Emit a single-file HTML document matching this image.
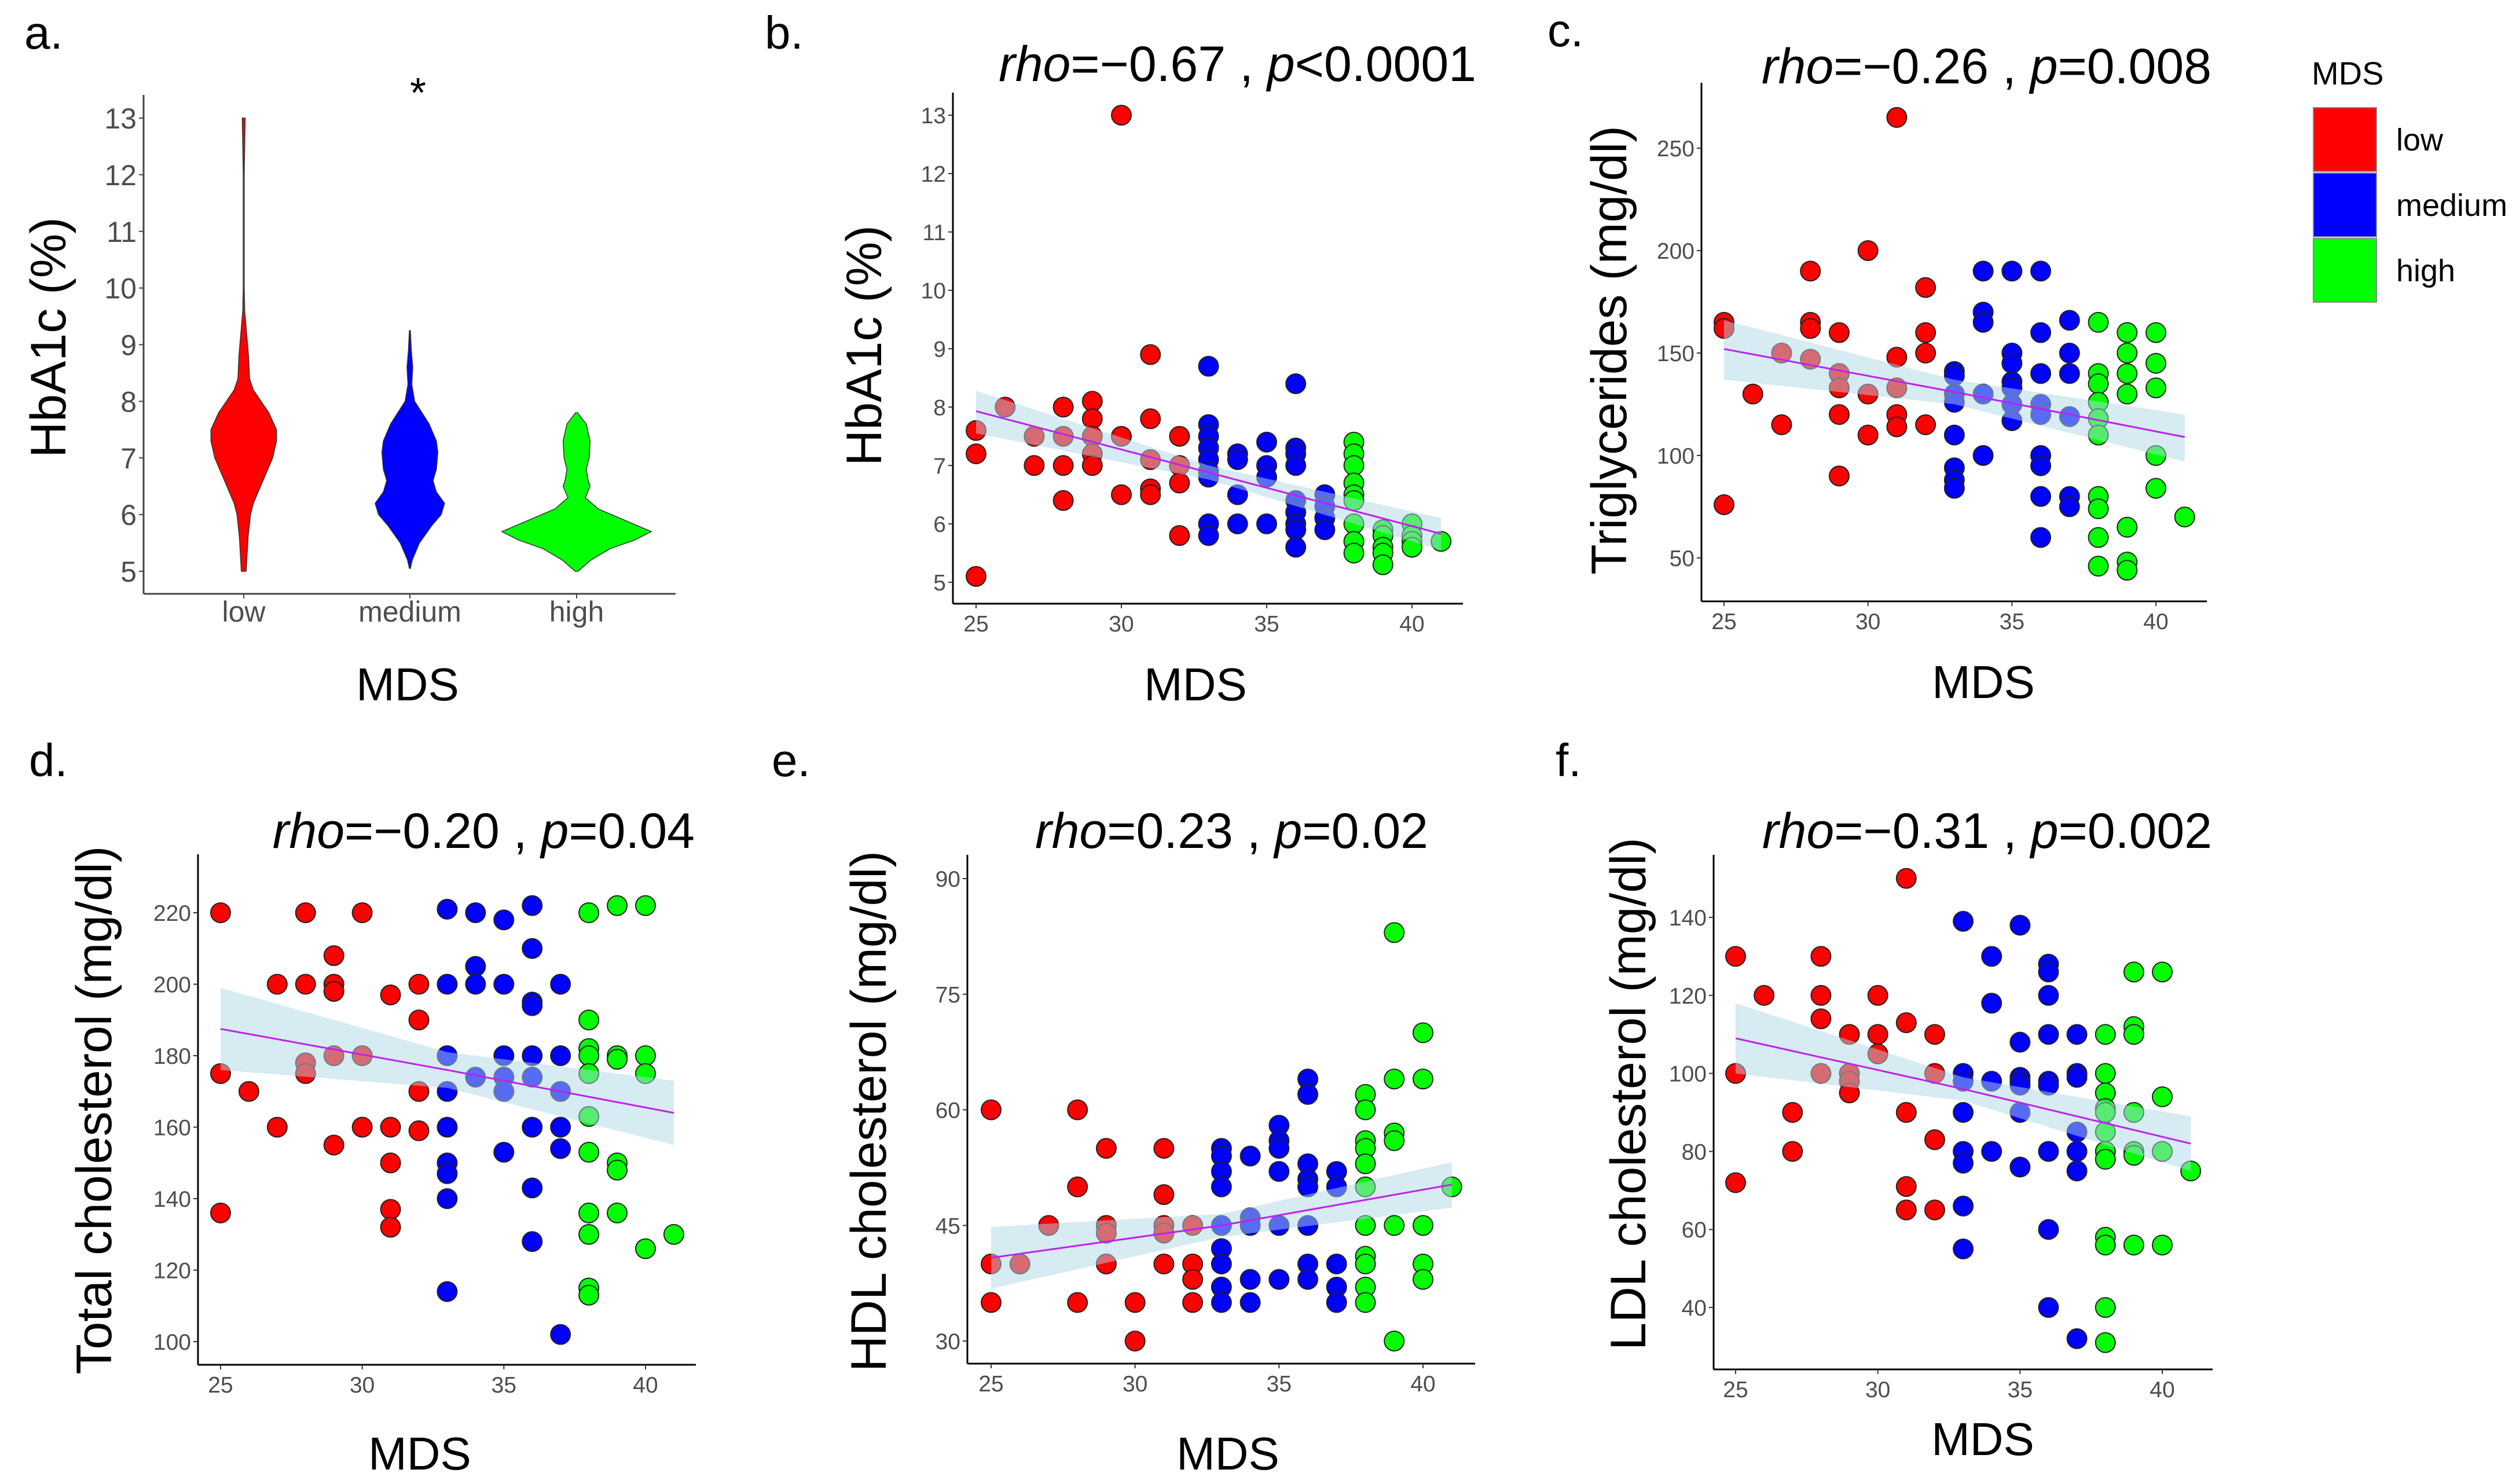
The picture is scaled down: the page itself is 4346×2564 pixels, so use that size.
<!DOCTYPE html>
<html><head><meta charset="utf-8">
<style>
html,body{margin:0;padding:0;background:#fff;}
svg{display:block;font-family:"Liberation Sans",Arial,sans-serif;}
</style></head>
<body>
<svg id="fig" width="4346" height="2564" viewBox="0 0 4346 2564" xmlns="http://www.w3.org/2000/svg"></svg>
<script>
// ---------- DATA ----------
const violinGroups = ["low","medium","high"];
const violinTicks = [5,6,7,8,9,10,11,12,13];
const lowProfileVals = [13,12.5,12,10,9.6,9.2,8.8,8.4,8.2,8,7.8,7.5,7.3,7,6.7,6.4,6.2,6.0,5.6,5.3,5];
const lowProfileDens = [3,2,1,1,2,6,10,12,20,36,52,68,68,60,45,30,20,14,9,7,5];
const medProfileVals = [9.25,8.9,8.6,8.3,8.0,7.8,7.6,7.3,7.1,6.8,6.6,6.4,6.2,6.0,5.8,5.5,5.2,5.05];
const medProfileDens = [1,3,6,4,10,25,40,55,58,55,48,55,72,65,45,20,5,1];
const highProfileVals = [7.8,7.6,7.3,7.0,6.8,6.6,6.5,6.3,6.1,5.9,5.7,5.55,5.4,5.2,5.0];
const highProfileDens = [2,20,28,26,20,24,28,18,45,100,155,120,70,30,3];

const hba1cPoints = [[25,7.6],[25,7.2],[25,5.1],[26,8.0],[27,7.5],[27,7.0],[28,8.0],[28,7.5],[28,7.0],[28,6.4],[29,8.1],[29,7.8],[29,7.5],[29,7.2],[29,7.0],[30,13],[30,7.5],[30,6.5],[31,8.9],[31,7.8],[31,7.1],[31,6.6],[31,6.5],[32,7.5],[32,7.0],[32,6.7],[32,5.8],
[33,8.7],[33,7.7],[33,7.5],[33,7.3],[33,7.1],[33,6.9],[33,6.8],[33,6.0],[33,5.8],[34,7.2],[34,7.1],[34,6.5],[34,6.0],[35,7.4],[35,7.0],[35,6.8],[35,6.0],[36,8.4],[36,7.3],[36,7.2],[36,7.0],[36,6.4],[36,6.2],[36,6.0],[36,5.9],[36,5.6],[37,6.5],[37,6.3],[37,6.1],[37,5.9],
[38,7.4],[38,7.2],[38,7.0],[38,6.7],[38,6.5],[38,6.4],[38,6.0],[38,5.7],[38,5.5],[39,5.9],[39,5.8],[39,5.6],[39,5.5],[39,5.3],[40,6.0],[40,5.8],[40,5.7],[40,5.6],[41,5.7]];
const hba1cFit = [7.93,6.88,5.83];
const hba1cLo = [7.55,6.76,5.55];
const hba1cHi = [8.28,7.0,6.1];

const trigPoints = [[25,165],[25,162],[25,76],[26,130],[27,150],[27,115],[28,190],[28,165],[28,162],[28,147],[29,160],[29,140],[29,133],[29,120],[29,90],[30,200],[30,130],[30,110],[31,265],[31,148],[31,133],[31,120],[31,114],[32,182],[32,160],[32,150],[32,115],
[33,141],[33,139],[33,130],[33,126],[33,110],[33,94],[33,88],[33,84],[34,190],[34,170],[34,165],[34,130],[34,100],[35,190],[35,150],[35,145],[35,136],[35,133],[35,125],[35,117],[36,190],[36,160],[36,140],[36,125],[36,120],[36,100],[36,95],[36,80],[36,60],[37,166],[37,150],[37,140],[37,119],[37,80],[37,75],
[38,165],[38,140],[38,135],[38,126],[38,118],[38,110],[38,80],[38,74],[38,60],[38,46],[39,160],[39,150],[39,140],[39,130],[39,65],[39,48],[39,44],[40,160],[40,145],[40,133],[40,100],[40,84],[41,70]];
const trigFit = [152,131,109];
const trigLo = [137,125,97];
const trigHi = [166,137,120];

const tcPoints = [[25,220],[25,175],[25,136],[26,170],[27,200],[27,160],[28,220],[28,200],[28,178],[28,175],[29,208],[29,200],[29,198],[29,180],[29,155],[30,220],[30,180],[30,160],[31,197],[31,160],[31,150],[31,137],[31,132],[32,200],[32,190],[32,170],[32,159],
[33,221],[33,200],[33,180],[33,170],[33,160],[33,150],[33,147],[33,140],[33,114],[34,220],[34,205],[34,200],[34,174],[35,218],[35,200],[35,180],[35,174],[35,170],[35,153],[36,222],[36,210],[36,195],[36,194],[36,180],[36,174],[36,160],[36,143],[36,128],[37,200],[37,180],[37,170],[37,160],[37,154],[37,102],
[38,220],[38,190],[38,182],[38,180],[38,175],[38,163],[38,153],[38,136],[38,130],[38,115],[38,113],[39,222],[39,180],[39,179],[39,150],[39,148],[39,136],[40,222],[40,180],[40,175],[40,126],[41,130]];
const tcFit = [187.5,176,164];
const tcLo = [176,171,155];
const tcHi = [199,181,173];

const hdlPoints = [[25,60],[25,40],[25,35],[26,40],[27,45],[28,60],[28,50],[28,35],[29,55],[29,45],[29,44],[29,40],[30,35],[30,30],[31,55],[31,49],[31,45],[31,44],[31,40],[32,45],[32,40],[32,38],[32,35],
[33,55],[33,54],[33,52],[33,50],[33,45],[33,42],[33,40],[33,37],[33,35],[34,54],[34,46],[34,45],[34,38],[34,35],[35,58],[35,56],[35,55],[35,52],[35,45],[35,38],[36,64],[36,62],[36,53],[36,51],[36,50],[36,45],[36,40],[36,38],[37,52],[37,50],[37,40],[37,37],[37,35],
[38,62],[38,60],[38,56],[38,55],[38,53],[38,50],[38,45],[38,41],[38,40],[38,37],[38,35],[39,83],[39,64],[39,57],[39,56],[39,45],[39,30],[40,70],[40,64],[40,45],[40,40],[40,38],[41,50]];
const hdlFit = [40.8,45,50.3];
const hdlLo = [36.8,43.5,47.3];
const hdlHi = [44.8,46.5,53.2];

const ldlPoints = [[25,130],[25,100],[25,72],[26,120],[27,90],[27,80],[28,130],[28,120],[28,114],[28,100],[29,110],[29,100],[29,98],[29,95],[30,120],[30,110],[30,105],[31,150],[31,113],[31,90],[31,71],[31,65],[32,110],[32,100],[32,83],[32,65],
[33,139],[33,100],[33,98],[33,90],[33,80],[33,77],[33,66],[33,55],[34,130],[34,118],[34,98],[34,80],[35,138],[35,108],[35,99],[35,98],[35,97],[35,90],[35,76],[36,128],[36,126],[36,120],[36,110],[36,98],[36,97],[36,80],[36,60],[36,40],[37,110],[37,100],[37,99],[37,85],[37,80],[37,75],[37,32],
[38,110],[38,100],[38,95],[38,91],[38,90],[38,85],[38,80],[38,78],[38,58],[38,56],[38,40],[38,31],[39,126],[39,112],[39,110],[39,90],[39,80],[39,79],[39,56],[40,126],[40,94],[40,80],[40,56],[41,75]];
const ldlFit = [109,96,82];
const ldlLo = [100,93,75];
const ldlHi = [118,99,89];

const ciMds = [25,33,41];
const xTicks = [25,30,35,40];

// ---------- DRAWING ----------
const NS = "http://www.w3.org/2000/svg";
const svg = document.getElementById('fig');
function el(tag, attrs, parent){
  const e = document.createElementNS(NS, tag);
  for (const k in attrs) e.setAttribute(k, attrs[k]);
  (parent||svg).appendChild(e);
  return e;
}
const groupColor = {low:"#FF0000", medium:"#0000FF", high:"#00FF00"};
function groupOf(m){ return m<=32 ? "low" : (m<=37 ? "medium" : "high"); }

function text(str, x, y, size, anchor, parent, extra){
  const t = el('text', Object.assign({x:x, y:y, 'font-size':size, 'text-anchor':anchor||'start', fill:'#000'}, extra||{}), parent);
  t.textContent = str;
  return t;
}

function panelLetter(letter, x, y){
  const t = text(letter, x, y, 80, 'start');
  
  
}

function scatterPanel(id, cfg, pts, fit, lo, hi){
  const g = el('g', {});
  
  
  const sx = v => cfg.x25 + (v-25)*(cfg.x40-cfg.x25)/15;
  const sy = v => cfg.yr[1] + (v-cfg.yr[0])*(cfg.yr[3]-cfg.yr[1])/(cfg.yr[2]-cfg.yr[0]);
  // points
  const pg = el('g', {}, g);
  
  
  pts.forEach(p => {
    const c = el('circle', {cx:sx(p[0]), cy:sy(p[1]), r:17, fill:groupColor[groupOf(p[0])], stroke:'#222', 'stroke-width':2}, pg);
    
    
  });
  // CI band
  let d = '';
  ciMds.forEach((m,i)=>{ d += (i?'L':'M') + sx(m) + ',' + sy(hi[i]); });
  for (let i=ciMds.length-1;i>=0;i--) d += 'L' + sx(ciMds[i]) + ',' + sy(lo[i]);
  d += 'Z';
  const band = el('path', {d:d, fill:'#add8e6', 'fill-opacity':0.5, stroke:'none'}, g);
  
  
  let ld = '';
  ciMds.forEach((m,i)=>{ ld += (i?'L':'M') + sx(m) + ',' + sy(fit[i]); });
  const line = el('path', {d:ld, fill:'none', stroke:'#c020f0', 'stroke-width':3}, g);
  
  
  // axes
  const ya = el('line', {x1:cfg.ax, y1:cfg.top, x2:cfg.ax, y2:cfg.ay, stroke:'#000', 'stroke-width':3}, g);
  
  
  const xa = el('line', {x1:cfg.ax, y1:cfg.ay, x2:cfg.right, y2:cfg.ay, stroke:'#000', 'stroke-width':3}, g);
  
  
  cfg.yt.forEach(v=>{
    el('line', {x1:cfg.ax-8, y1:sy(v), x2:cfg.ax, y2:sy(v), stroke:'#333', 'stroke-width':2}, g);
    const t = text(String(v), cfg.ax-12, sy(v)+14, 39, 'end', g, {fill:'#4d4d4d'});
    
    
  });
  xTicks.forEach(v=>{
    el('line', {x1:sx(v), y1:cfg.ay, x2:sx(v), y2:cfg.ay+8, stroke:'#333', 'stroke-width':2}, g);
    const t = text(String(v), sx(v), cfg.ay+48, 39, 'middle', g, {fill:'#4d4d4d'});
    
    
  });
  // titles
  const yt = text(cfg.ylab, 0, 0, 86, 'middle', g, {transform:'translate(' + cfg.ytx + ',' + cfg.yty + ') rotate(-90)', dy:'0.35em'});
  
  
  const xt = text('MDS', cfg.mx, cfg.my, 80, 'middle', g);
  
  
  const tt = el('text', {x:cfg.tr, y:cfg.tb, 'font-size':86, 'text-anchor':'end', fill:'#000'}, g);
  
  
  const s1 = el('tspan', {'font-style':'italic'}, tt); s1.textContent = 'rho';
  const s2 = el('tspan', {}, tt); s2.textContent = cfg.rho + ' , ';
  const s3 = el('tspan', {'font-style':'italic'}, tt); s3.textContent = 'p';
  const s4 = el('tspan', {}, tt); s4.textContent = cfg.p;
}

// ---- Panel a: violin ----
(function(){
  const g = el('g', {});
  
  
  const sy = v => 204 + (13 - v)*(987-204)/8;
  const cx = {low:421, medium:708, high:996};
  const profiles = {low:[lowProfileVals,lowProfileDens], medium:[medProfileVals,medProfileDens], high:[highProfileVals,highProfileDens]};
  violinGroups.forEach(grp=>{
    const [vals,dens] = profiles[grp];
    let d = '';
    vals.forEach((v,i)=>{ d += (i?'L':'M') + (cx[grp] + dens[i]/1.2) + ',' + sy(v); });
    for (let i=vals.length-1;i>=0;i--) d += 'L' + (cx[grp] - dens[i]/1.2) + ',' + sy(vals[i]);
    d += 'Z';
    const p = el('path', {d:d, fill:groupColor[grp], stroke:'#333', 'stroke-width':1.5, 'stroke-linejoin':'round'}, g);
    
    
  });
  const ya = el('line', {x1:248, y1:164, x2:248, y2:1026, stroke:'#444', 'stroke-width':3}, g);
  
  
  const xa = el('line', {x1:248, y1:1026, x2:1167, y2:1026, stroke:'#444', 'stroke-width':3}, g);
  
  
  violinTicks.forEach(v=>{
    el('line', {x1:240, y1:sy(v), x2:248, y2:sy(v), stroke:'#444', 'stroke-width':2}, g);
    const t = text(String(v), 236, sy(v)+18, 50, 'end', g, {fill:'#4d4d4d'});
    
    
  });
  violinGroups.forEach(grp=>{
    el('line', {x1:cx[grp], y1:1026, x2:cx[grp], y2:1034, stroke:'#444', 'stroke-width':2}, g);
    const t = text(grp, cx[grp], 1074, 50, 'middle', g, {fill:'#4d4d4d'});
    
    
  });
  const yt = text('HbA1c (%)', 0, 0, 86, 'middle', g, {transform:'translate(83,583) rotate(-90)', dy:'0.35em'});
  
  
  const xt = text('MDS', 704, 1210, 80, 'middle', g);
  
  
  const st = text('*', 722, 185, 72, 'middle', g);
  
  
})();

scatterPanel('b', {ax:1646, top:160, ay:1043, right:2527, x25:1686, x40:2439, yr:[13,199,5,1006], yt:[5,6,7,8,9,10,11,12,13],
  ylab:'HbA1c (%)', ytx:1492, yty:597, mx:2065, my:1210, tr:2550, tb:140, rho:'=\u22120.67', p:'<0.0001'}, hba1cPoints, hba1cFit, hba1cLo, hba1cHi);
scatterPanel('c', {ax:2939, top:143, ay:1039, right:3812, x25:2978, x40:3724, yr:[250,256,50,964], yt:[50,100,150,200,250],
  ylab:'Triglycerides (mg/dl)', ytx:2779, yty:605, mx:3426, my:1206, tr:3820, tb:144, rho:'=\u22120.26', p:'=0.008'}, trigPoints, trigFit, trigLo, trigHi);
scatterPanel('d', {ax:342, top:1476, ay:2358, right:1202, x25:381, x40:1115, yr:[220,1577,100,2318], yt:[100,120,140,160,180,200,220],
  ylab:'Total cholesterol (mg/dl)', ytx:162, yty:1918, mx:725, my:2539, tr:1200, tb:1465, rho:'=\u22120.20', p:'=0.04'}, tcPoints, tcFit, tcLo, tcHi);
scatterPanel('e', {ax:1671, top:1477, ay:2356, right:2548, x25:1712, x40:2458, yr:[90,1518,30,2317], yt:[30,45,60,75,90],
  ylab:'HDL cholesterol (mg/dl)', ytx:1500, yty:1920, mx:2121, my:2539, tr:2467, tb:1465, rho:'=0.23', p:'=0.02'}, hdlPoints, hdlFit, hdlLo, hdlHi);
scatterPanel('f', {ax:2960, top:1477, ay:2366, right:3822, x25:2998, x40:3735, yr:[140,1585,40,2259], yt:[40,60,80,100,120,140],
  ylab:'LDL cholesterol (mg/dl)', ytx:2812, yty:1890, mx:3425, my:2514, tr:3821, tb:1465, rho:'=\u22120.31', p:'=0.002'}, ldlPoints, ldlFit, ldlLo, ldlHi);

panelLetter('a.', 42, 84);
panelLetter('b.', 1321, 84);
panelLetter('c.', 2673, 80);
panelLetter('d.', 50, 1341);
panelLetter('e.', 1333, 1341);
panelLetter('f.', 2687, 1341);

// ---- Legend ----
(function(){
  const g = el('g', {});
  
  
  const lt = text('MDS', 3993, 146, 56, 'start', g);
  
  
  violinGroups.forEach((grp,i)=>{
    const y = 186 + i*113;
    const r = el('rect', {x:3996, y:y, width:109, height:110, fill:groupColor[grp], stroke:'#888', 'stroke-width':2}, g);
    
    
    const t = text(grp, 4139, y+55+19, 54, 'start', g);
    
    
  });
})();
</script>
</body></html>
